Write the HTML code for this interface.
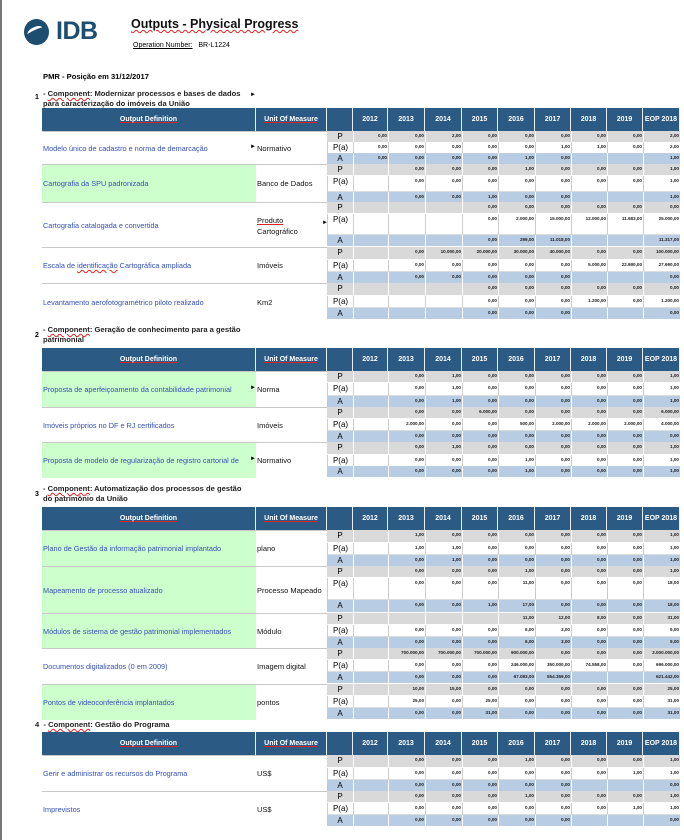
<!DOCTYPE html>
<html><head><meta charset="utf-8">
<style>
*{margin:0;padding:0;box-sizing:border-box}
body{width:684px;height:840px;position:relative;background:#fff;font-family:"Liberation Sans",Arial,sans-serif;overflow:hidden}
.lb{position:absolute;left:0;top:0;width:2px;height:840px;background:#777}
.t{position:absolute;white-space:nowrap;color:#000}
.w{text-decoration:underline wavy #d22;text-decoration-thickness:1px}
.hd{position:absolute;left:42px;width:638px;height:23px;display:grid;grid-template-columns:214px 71px 26px 35px 37px 37px 36px 37px 36px 36px 36px 37px;background:#2b5a85}
.hd span{color:#fff;font-weight:bold;font-size:7px;display:flex;align-items:center;justify-content:center;border-right:1px solid #e8eef4;}
.hd span.u{text-decoration:underline;text-decoration-color:#d22}
.r{position:absolute;left:327px;width:353px;display:grid;grid-template-columns:26px 35px 37px 37px 36px 37px 36px 36px 36px 37px}
.r b{font-weight:normal;font-size:8px;text-align:center;line-height:10px;padding-top:1px;border-bottom:1px solid #fff}
.r i{font-style:normal;font-weight:bold;font-size:4.6px;text-align:right;padding:2px 1px 0 0;border-left:1px solid #fff;border-bottom:1px solid #fff;color:#222}
.p{background:#d9d9d9}
.pa{background:#fff}
.pa i{border-left:1px solid #ccc;border-bottom:1px solid #ddd}
.pa b{border-left:1px solid #ccc;border-bottom:1px solid #ddd}
.a{background:#b8cce4}
.d{position:absolute;left:42px;width:214px;display:flex;align-items:center;padding-left:1px;font-size:7.3px;color:#3550b5;border-top:1px solid #c8c8c8}
.g{background:#ccffcc}
.u2{position:absolute;left:256px;width:71px;display:flex;align-items:center;padding-left:1px;font-size:7.5px;color:#111;border-top:1px solid #c8c8c8}
.c{position:absolute;font-size:7.6px;font-weight:bold;line-height:10px;color:#222;white-space:nowrap}
.tri{position:absolute;font-size:6px;color:#000}
</style></head><body>
<div class="lb"></div>
<div style="position:absolute;left:24px;top:19px;width:25px;height:26px;border-radius:50%;background:#1d4e70"></div>
<div style="position:absolute;left:27px;top:27px;width:16px;height:8px;border-radius:50%;border-top:3px solid #fff;transform:rotate(-25deg)"></div>
<div class="t" style="left:56px;top:17px;font-size:25px;font-weight:bold;color:#1d4e70;letter-spacing:-0.5px">IDB</div>
<div class="t w" style="left:131px;top:17px;font-size:12.5px;font-weight:bold;color:#111">Outputs - Physical Progress</div>
<div class="t" style="left:133px;top:42px;font-size:7px"><span style="text-decoration:underline">Operation Number:</span>&nbsp;&nbsp; BR-L1224</div>
<div class="t" style="left:43px;top:72px;font-size:7.6px;font-weight:bold">PMR - Posição em 31/12/2017</div>

<!-- Section 1 -->
<div class="t" style="left:35px;top:94px;font-size:7px;font-weight:bold">1</div>
<div class="c" style="left:43px;top:89px"> - <span class="w">Component</span>: Modernizar processos e bases de dados<br>para caracterização do imóveis da União</div>
<div class="tri" style="left:250px;top:92px">&#9658;</div>
<div class="hd" style="top:108px"><span class="u">Output Definition</span><span class="u">Unit Of Measure</span><span></span><span>2012</span><span>2013</span><span>2014</span><span>2015</span><span>2016</span><span>2017</span><span>2018</span><span>2019</span><span>EOP 2018</span></div>

<div class="d" style="top:131px;height:33px">Modelo único de cadastro e norma de demarcação</div>
<div class="u2" style="top:131px;height:33px">Normativo</div><div class="tri" style="left:250px;top:144px">&#9658;</div>
<div class="r p" style="top:131px;height:11px"><b>P</b><i>0,00</i><i>0,00</i><i>2,00</i><i>0,00</i><i>0,00</i><i>0,00</i><i>0,00</i><i>0,00</i><i>2,00</i></div>
<div class="r pa" style="top:142px;height:11px"><b>P(a)</b><i>0,00</i><i>0,00</i><i>0,00</i><i>0,00</i><i>0,00</i><i>1,00</i><i>1,00</i><i>0,00</i><i>2,00</i></div>
<div class="r a" style="top:153px;height:11px"><b>A</b><i>0,00</i><i>0,00</i><i>0,00</i><i>0,00</i><i>1,00</i><i>0,00</i><i></i><i></i><i>1,00</i></div>

<div class="d g" style="top:164px;height:38px">Cartografia da SPU padronizada</div>
<div class="u2" style="top:164px;height:38px">Banco de Dados</div>
<div class="r p" style="top:164px;height:12px"><b>P</b><i></i><i>0,00</i><i>0,00</i><i>0,00</i><i>1,00</i><i>0,00</i><i>0,00</i><i>0,00</i><i>1,00</i></div>
<div class="r pa" style="top:176px;height:16px"><b>P(a)</b><i></i><i>0,00</i><i>0,00</i><i>0,00</i><i>0,00</i><i>0,00</i><i>0,00</i><i>0,00</i><i>1,00</i></div>
<div class="r a" style="top:192px;height:10px"><b>A</b><i></i><i>0,00</i><i>0,00</i><i>1,00</i><i>0,00</i><i>0,00</i><i></i><i></i><i>1,00</i></div>

<div class="d" style="top:202px;height:45px">Cartografia catalogada e convertida</div>
<div class="u2" style="top:202px;height:45px;align-items:flex-start;padding-top:12px;line-height:11px"><span><span style="text-decoration:underline;text-decoration-color:#d22">Produto</span><br>Cartográfico</span></div>
<div class="tri" style="left:322px;top:220px">&#9658;</div>
<div class="r p" style="top:202px;height:12px"><b>P</b><i></i><i></i><i></i><i>0,00</i><i>0,00</i><i>0,00</i><i>0,00</i><i>0,00</i><i>0,00</i></div>
<div class="r pa" style="top:214px;height:21px"><b>P(a)</b><i></i><i></i><i></i><i>0,00</i><i>2.000,00</i><i>15.000,00</i><i>12.000,00</i><i>11.683,00</i><i>25.000,00</i></div>
<div class="r a" style="top:235px;height:12px"><b>A</b><i></i><i></i><i></i><i>0,00</i><i>299,00</i><i>11.018,00</i><i></i><i></i><i>11.317,00</i></div>

<div class="d" style="top:247px;height:36px">Escala de&nbsp;<span style="text-decoration:underline wavy #d22">identificação</span>&nbsp;Cartográfica ampliada</div>
<div class="u2" style="top:247px;height:36px">Imóveis</div>
<div class="r p" style="top:247px;height:13px"><b>P</b><i></i><i>0,00</i><i>10.000,00</i><i>20.000,00</i><i>30.000,00</i><i>40.000,00</i><i>0,00</i><i>0,00</i><i>100.000,00</i></div>
<div class="r pa" style="top:260px;height:12px"><b>P(a)</b><i></i><i>0,00</i><i>0,00</i><i>0,00</i><i>0,00</i><i>0,00</i><i>5.000,00</i><i>22.690,00</i><i>27.690,00</i></div>
<div class="r a" style="top:272px;height:11px"><b>A</b><i></i><i>0,00</i><i>0,00</i><i>0,00</i><i>0,00</i><i>0,00</i><i></i><i></i><i>0,00</i></div>

<div class="d" style="top:283px;height:37px">Levantamento aerofotogramétrico piloto realizado</div>
<div class="u2" style="top:283px;height:37px">Km2</div>
<div class="r p" style="top:283px;height:13px"><b>P</b><i></i><i></i><i></i><i>0,00</i><i>0,00</i><i>0,00</i><i>0,00</i><i>0,00</i><i>0,00</i></div>
<div class="r pa" style="top:296px;height:12px"><b>P(a)</b><i></i><i></i><i></i><i>0,00</i><i>0,00</i><i>0,00</i><i>1.200,00</i><i>0,00</i><i>1.200,00</i></div>
<div class="r a" style="top:308px;height:12px"><b>A</b><i></i><i></i><i></i><i>0,00</i><i>0,00</i><i>0,00</i><i></i><i></i><i>0,00</i></div>

<!-- Section 2 -->
<div class="t" style="left:35px;top:332px;font-size:7px;font-weight:bold">2</div>
<div class="c" style="left:43px;top:325px"> - <span class="w">Component</span>: Geração de conhecimento para a gestão<br>patrimonial</div>
<div class="hd" style="top:348px"><span class="u">Output Definition</span><span class="u">Unit Of Measure</span><span></span><span>2012</span><span>2013</span><span>2014</span><span>2015</span><span>2016</span><span>2017</span><span>2018</span><span>2019</span><span>EOP 2018</span></div>

<div class="d g" style="top:371px;height:36px">Proposta de aperfeiçoamento da contabilidade patrimonial</div>
<div class="u2" style="top:371px;height:36px">Norma</div><div class="tri" style="left:250px;top:385px">&#9658;</div>
<div class="r p" style="top:371px;height:12px"><b>P</b><i></i><i>0,00</i><i>1,00</i><i>0,00</i><i>0,00</i><i>0,00</i><i>0,00</i><i>0,00</i><i>1,00</i></div>
<div class="r pa" style="top:383px;height:13px"><b>P(a)</b><i></i><i>0,00</i><i>1,00</i><i>0,00</i><i>0,00</i><i>0,00</i><i>0,00</i><i>0,00</i><i>1,00</i></div>
<div class="r a" style="top:396px;height:11px"><b>A</b><i></i><i>0,00</i><i>1,00</i><i>0,00</i><i>0,00</i><i>0,00</i><i>0,00</i><i>0,00</i><i>1,00</i></div>

<div class="d" style="top:407px;height:35px">Imóveis próprios no DF e RJ certificados</div>
<div class="u2" style="top:407px;height:35px">Imóveis</div>
<div class="r p" style="top:407px;height:12px"><b>P</b><i></i><i>0,00</i><i>0,00</i><i>6.000,00</i><i>0,00</i><i>0,00</i><i>0,00</i><i>0,00</i><i>6.000,00</i></div>
<div class="r pa" style="top:419px;height:12px"><b>P(a)</b><i></i><i>2.000,00</i><i>0,00</i><i>0,00</i><i>500,00</i><i>2.000,00</i><i>2.000,00</i><i>2.000,00</i><i>4.000,00</i></div>
<div class="r a" style="top:431px;height:11px"><b>A</b><i></i><i>0,00</i><i>0,00</i><i>0,00</i><i>0,00</i><i>0,00</i><i>0,00</i><i>0,00</i><i>0,00</i></div>

<div class="d g" style="top:442px;height:36px">Proposta de modelo de regularização de registro cartorial de</div>
<div class="u2" style="top:442px;height:36px">Normativo</div><div class="tri" style="left:250px;top:456px">&#9658;</div>
<div class="r p" style="top:442px;height:13px"><b>P</b><i></i><i>0,00</i><i>1,00</i><i>0,00</i><i>0,00</i><i>0,00</i><i>0,00</i><i>0,00</i><i>1,00</i></div>
<div class="r pa" style="top:455px;height:11px"><b>P(a)</b><i></i><i>0,00</i><i>0,00</i><i>0,00</i><i>1,00</i><i>0,00</i><i>0,00</i><i>0,00</i><i>1,00</i></div>
<div class="r a" style="top:466px;height:12px"><b>A</b><i></i><i>0,00</i><i>0,00</i><i>0,00</i><i>1,00</i><i>0,00</i><i>0,00</i><i>0,00</i><i>1,00</i></div>

<!-- Section 3 -->
<div class="t" style="left:35px;top:491px;font-size:7px;font-weight:bold">3</div>
<div class="c" style="left:43px;top:484px"> - <span class="w">Component</span>: Automatização dos processos de gestão<br>do patrimônio da União</div>
<div class="hd" style="top:507px"><span class="u">Output Definition</span><span class="u">Unit Of Measure</span><span></span><span>2012</span><span>2013</span><span>2014</span><span>2015</span><span>2016</span><span>2017</span><span>2018</span><span>2019</span><span>EOP 2018</span></div>

<div class="d g" style="top:530px;height:36px">Plano de Gestão da informação patrimonial implantado</div>
<div class="u2" style="top:530px;height:36px">plano</div>
<div class="r p" style="top:530px;height:13px"><b>P</b><i></i><i>1,00</i><i>0,00</i><i>0,00</i><i>0,00</i><i>0,00</i><i>0,00</i><i>0,00</i><i>1,00</i></div>
<div class="r pa" style="top:543px;height:12px"><b>P(a)</b><i></i><i>1,00</i><i>1,00</i><i>0,00</i><i>0,00</i><i>0,00</i><i>0,00</i><i>0,00</i><i>1,00</i></div>
<div class="r a" style="top:555px;height:11px"><b>A</b><i></i><i>0,00</i><i>1,00</i><i>0,00</i><i>0,00</i><i>0,00</i><i>0,00</i><i>0,00</i><i>1,00</i></div>

<div class="d g" style="top:566px;height:47px">Mapeamento de processo atualizado</div>
<div class="u2" style="top:566px;height:47px">Processo Mapeado</div>
<div class="r p" style="top:566px;height:12px"><b>P</b><i></i><i>0,00</i><i>0,00</i><i>0,00</i><i>1,00</i><i>0,00</i><i>0,00</i><i>0,00</i><i>1,00</i></div>
<div class="r pa" style="top:578px;height:22px"><b>P(a)</b><i></i><i>0,00</i><i>0,00</i><i>0,00</i><i>11,00</i><i>0,00</i><i>0,00</i><i>0,00</i><i>18,00</i></div>
<div class="r a" style="top:600px;height:13px"><b>A</b><i></i><i>0,00</i><i>0,00</i><i>1,00</i><i>17,00</i><i>0,00</i><i>0,00</i><i>0,00</i><i>18,00</i></div>

<div class="d g" style="top:613px;height:35px">Módulos de sistema de gestão patrimonial implementados</div>
<div class="u2" style="top:613px;height:35px">Módulo</div>
<div class="r p" style="top:613px;height:12px"><b>P</b><i></i><i></i><i></i><i></i><i>11,00</i><i>12,00</i><i>8,00</i><i>0,00</i><i>31,00</i></div>
<div class="r pa" style="top:625px;height:12px"><b>P(a)</b><i></i><i>0,00</i><i>0,00</i><i>0,00</i><i>6,00</i><i>3,00</i><i>0,00</i><i>0,00</i><i>9,00</i></div>
<div class="r a" style="top:637px;height:11px"><b>A</b><i></i><i>0,00</i><i>0,00</i><i>0,00</i><i>6,00</i><i>3,00</i><i>0,00</i><i>0,00</i><i>9,00</i></div>

<div class="d" style="top:648px;height:36px">Documentos digitalizados (0 em 2009)</div>
<div class="u2" style="top:648px;height:36px">Imagem digital</div>
<div class="r p" style="top:648px;height:12px"><b>P</b><i></i><i>700.000,00</i><i>700.000,00</i><i>700.000,00</i><i>900.000,00</i><i>0,00</i><i>0,00</i><i>0,00</i><i>3.000.000,00</i></div>
<div class="r pa" style="top:660px;height:12px"><b>P(a)</b><i></i><i>0,00</i><i>0,00</i><i>0,00</i><i>246.000,00</i><i>350.000,00</i><i>74.558,00</i><i>0,00</i><i>696.000,00</i></div>
<div class="r a" style="top:672px;height:12px"><b>A</b><i></i><i>0,00</i><i>0,00</i><i>0,00</i><i>67.083,00</i><i>554.359,00</i><i></i><i></i><i>621.442,00</i></div>

<div class="d g" style="top:684px;height:36px">Pontos de videoconferência implantados</div>
<div class="u2" style="top:684px;height:36px">pontos</div>
<div class="r p" style="top:684px;height:12px"><b>P</b><i></i><i>10,00</i><i>15,00</i><i>0,00</i><i>0,00</i><i>0,00</i><i>0,00</i><i>0,00</i><i>25,00</i></div>
<div class="r pa" style="top:696px;height:12px"><b>P(a)</b><i></i><i>25,00</i><i>0,00</i><i>25,00</i><i>0,00</i><i>0,00</i><i>0,00</i><i>0,00</i><i>31,00</i></div>
<div class="r a" style="top:708px;height:12px"><b>A</b><i></i><i>0,00</i><i>0,00</i><i>31,00</i><i>0,00</i><i>0,00</i><i>0,00</i><i>0,00</i><i>31,00</i></div>

<!-- Section 4 -->
<div class="c" style="left:35px;top:720px">4&nbsp; - <span class="w">Component</span>: Gestão do Programa</div>
<div class="hd" style="top:732px"><span class="u">Output Definition</span><span class="u">Unit Of Measure</span><span></span><span>2012</span><span>2013</span><span>2014</span><span>2015</span><span>2016</span><span>2017</span><span>2018</span><span>2019</span><span>EOP 2018</span></div>

<div class="d" style="top:755px;height:36px">Gerir e administrar os recursos do Programa</div>
<div class="u2" style="top:755px;height:36px">US$</div>
<div class="r p" style="top:755px;height:13px"><b>P</b><i></i><i>0,00</i><i>0,00</i><i>0,00</i><i>1,00</i><i>0,00</i><i>0,00</i><i>0,00</i><i>1,00</i></div>
<div class="r pa" style="top:768px;height:12px"><b>P(a)</b><i></i><i>0,00</i><i>0,00</i><i>0,00</i><i>0,00</i><i>0,00</i><i>0,00</i><i>1,00</i><i>1,00</i></div>
<div class="r a" style="top:780px;height:11px"><b>A</b><i></i><i>0,00</i><i>0,00</i><i>0,00</i><i>0,00</i><i>0,00</i><i></i><i></i><i>0,00</i></div>

<div class="d" style="top:791px;height:36px">Imprevistos</div>
<div class="u2" style="top:791px;height:36px">US$</div>
<div class="r p" style="top:791px;height:12px"><b>P</b><i></i><i>0,00</i><i>0,00</i><i>0,00</i><i>1,00</i><i>0,00</i><i>0,00</i><i>0,00</i><i>1,00</i></div>
<div class="r pa" style="top:803px;height:12px"><b>P(a)</b><i></i><i>0,00</i><i>0,00</i><i>0,00</i><i>0,00</i><i>0,00</i><i>0,00</i><i>1,00</i><i>1,00</i></div>
<div class="r a" style="top:815px;height:12px"><b>A</b><i></i><i>0,00</i><i>0,00</i><i>0,00</i><i>0,00</i><i>0,00</i><i></i><i></i><i>0,00</i></div>

</body></html>
